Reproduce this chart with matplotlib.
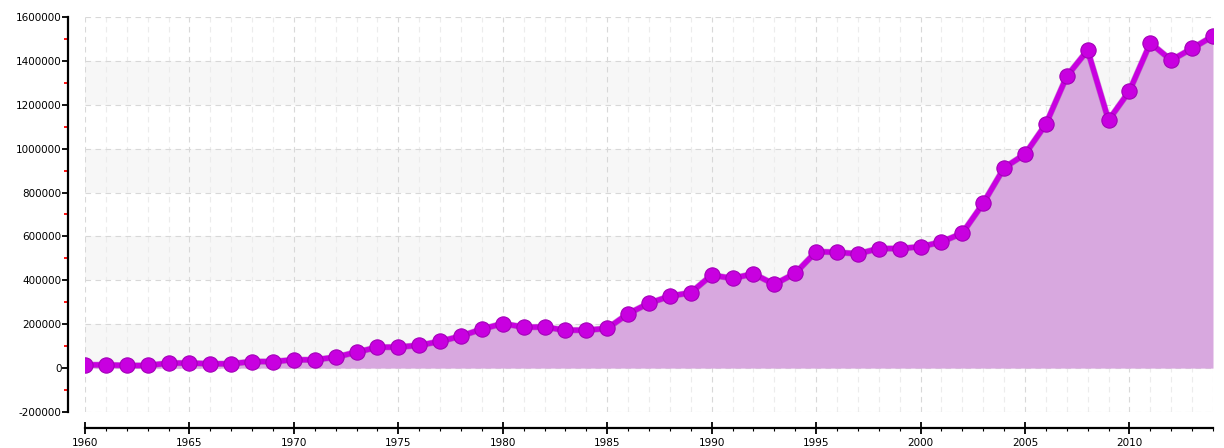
import matplotlib
matplotlib.use("Agg")
import matplotlib.pyplot as plt
from matplotlib.ticker import MultipleLocator

years = list(range(1960, 2015))
values = [15000, 15000, 12000, 12000, 23000, 23000, 20000, 20000, 30000, 30000,
          38000, 38000, 50000, 73000, 95000, 96000, 104000, 122000, 146000, 178000,
          203000, 187000, 187000, 173000, 173000, 181000, 248000, 296000, 328000, 344000,
          424000, 409000, 430000, 382000, 432000, 531000, 528000, 521000, 545000, 545000,
          553000, 575000, 615000, 751000, 913000, 975000, 1112000, 1330000, 1449000, 1130000,
          1263000, 1482000, 1403000, 1457000, 1513000]
x_tick_labels = ["1960", "1965", "1970", "1975", "1980", "1985", "1990", "1995", "2000", "2005", "2010"]
y_ticks = [-200000, 0, 200000, 400000, 600000, 800000, 1000000, 1200000, 1400000, 1600000]
band_starts = [0, 400000, 800000, 1200000]

fig = plt.figure(figsize=(12.24, 4.48), dpi=100)
ax = fig.add_axes([85/1224, 36/448, (1213-85)/1224, (412-17)/448])

ax.set_xlim(years[0], years[-1])
ax.set_ylim(y_ticks[0], y_ticks[-1])

for b in band_starts:
    ax.axhspan(b, b + 200000, color="#f7f7f7", zorder=0, lw=0)

ax.fill_between(years, 0, values, color="#d8a8df", zorder=2, lw=0)
ax.plot(years, values, color="#8a0098", lw=4.6, zorder=3, alpha=0.35)
ax.plot(years, values, color="#c800e0", lw=3.8, zorder=4,
        marker="o", markersize=11, markerfacecolor="#c800e0",
        markeredgecolor="#a300b8", markeredgewidth=0.8)

ax.set_xticks([int(t) for t in x_tick_labels])
ax.set_xticklabels(x_tick_labels)
ax.xaxis.set_minor_locator(MultipleLocator(1))
ax.set_yticks(y_ticks)
ax.set_yticklabels([str(v) for v in y_ticks])
ax.yaxis.set_minor_locator(MultipleLocator(100000))

ax.grid(which="major", axis="both", color="#d8d8d8", linestyle=(0, (5, 4)), lw=0.8, zorder=1)
ax.grid(which="minor", axis="x", color="#ececec", linestyle=(0, (5, 4)), lw=0.8, zorder=1)
ax.set_axisbelow(True)

for s in ["top", "right"]:
    ax.spines[s].set_visible(False)
ax.spines["left"].set_position(("outward", 12))
ax.spines["bottom"].set_position(("outward", 11.5))
ax.spines["left"].set_linewidth(1.6)
ax.spines["bottom"].set_linewidth(1.6)
ax.spines["left"].set_bounds(y_ticks[0], y_ticks[-1])

ax.tick_params(axis="y", which="major", direction="out", length=4, width=1.3,
               labelsize=7.5, pad=1, colors="black")
ax.tick_params(axis="y", which="minor", direction="out", length=3, width=1.3, color="red")
ax.tick_params(axis="x", which="major", direction="inout", length=8, width=1.3,
               labelsize=7.5, pad=3)
ax.tick_params(axis="x", which="minor", direction="out", length=2.5, width=0.8)

fig.savefig("out.png", dpi=100)
